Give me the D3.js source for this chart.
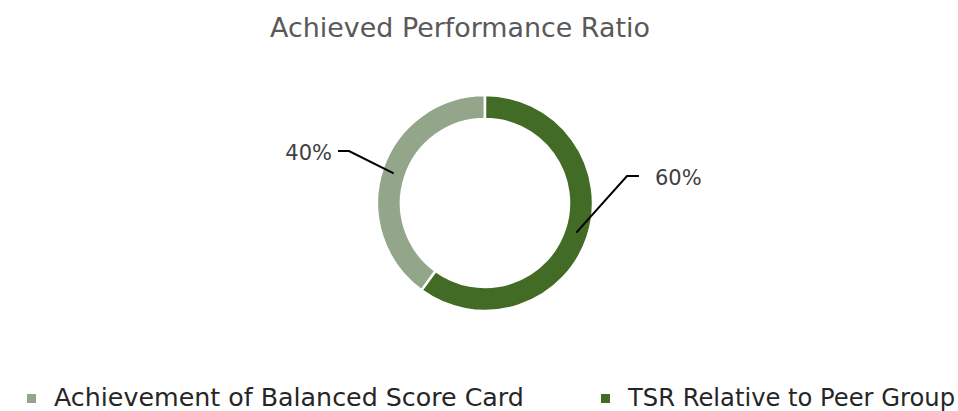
<!DOCTYPE html>
<html>
<head>
<meta charset="utf-8">
<script src="https://cdn.jsdelivr.net/npm/d3@7"></script>
<style>
  html, body { margin: 0; padding: 0; background: #fff; }
  svg { display: block; font-family: "DejaVu Sans", sans-serif; }
</style>
</head>
<body>
<svg id="chart" width="958" height="411"></svg>
<script>
// data
const title = "Achieved Performance Ratio";
const categories = ["Achievement of Balanced Score Card", "TSR Relative to Peer Group"];
const values = [40, 60];
const colors = ["#93a68a", "#426b25"];

// layout
const WIDTH = 958, HEIGHT = 411;
const CX = 485, CY = 203;
const OUTER = 108, INNER = 84;
const FIRST_SLICE = 216; // degrees, Excel "first slice angle"

// shrink / grow a text's font size until it hits the wanted width
const fitText = (sel, width) => {
  const fs = parseFloat(sel.attr("font-size"));
  const w = sel.node().getComputedTextLength();
  sel.attr("font-size", (fs * width / w).toFixed(2));
};

const svg = d3.select("#chart");

const t = svg.append("text")
  .attr("x", 460).attr("y", 37)
  .attr("text-anchor", "middle")
  .attr("font-size", 20)
  .attr("fill", "#595959")
  .text(title);
fitText(t, 380);

const rad = (deg) => deg * Math.PI / 180;
const pie = d3.pie().sort(null)
  .startAngle(rad(FIRST_SLICE))
  .endAngle(rad(FIRST_SLICE + 360));
const arcs = pie(values);
const arc = d3.arc().innerRadius(INNER).outerRadius(OUTER);
const mid = d3.arc().innerRadius((INNER + OUTER) / 2).outerRadius((INNER + OUTER) / 2);

const g = svg.append("g").attr("transform", `translate(${CX},${CY})`);
g.selectAll("path")
  .data(arcs)
  .join("path")
  .attr("d", arc)
  .attr("fill", (d, i) => colors[i])
  .attr("stroke", "#fff")
  .attr("stroke-width", 2.5);

// data label placement (elbow point, end of the short horizontal)
const labelPos = [
  { ex: -136, ey: -52, hx: -147, side: "end" },
  { ex: 142, ey: -27, hx: 154, side: "start" },
];
const total = d3.sum(values);

arcs.forEach((d, i) => {
  const [mx, my] = mid.centroid(d);
  const p = labelPos[i];
  g.append("polyline")
    .attr("points", [[mx, my], [p.ex, p.ey], [p.hx, p.ey]].map((q) => q.join(",")).join(" "))
    .attr("fill", "none")
    .attr("stroke", "#000")
    .attr("stroke-width", 2);
  g.append("text")
    .attr("x", p.side === "end" ? p.hx - 6 : p.hx + 16)
    .attr("y", p.ey + 9)
    .attr("text-anchor", p.side)
    .attr("font-size", 21)
    .attr("fill", "#404040")
    .text(Math.round(values[i] / total * 100) + "%");
});

// legend
const legendX = [27, 601];
const legendW = [470, 327];
categories.forEach((c, i) => {
  svg.append("rect")
    .attr("x", legendX[i]).attr("y", 394)
    .attr("width", 9).attr("height", 9)
    .attr("fill", colors[i]);
  const lt = svg.append("text")
    .attr("x", legendX[i] + 27).attr("y", 406)
    .attr("font-size", 20)
    .attr("fill", "#262626")
    .text(c);
  fitText(lt, legendW[i]);
});
</script>
</body>
</html>
